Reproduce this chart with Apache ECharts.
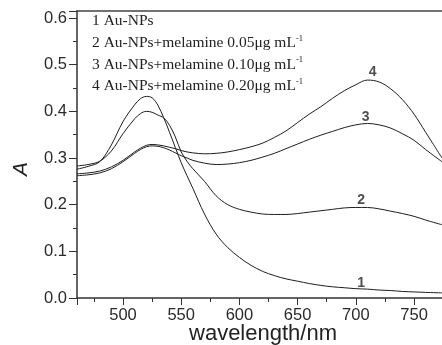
<!DOCTYPE html>
<html>
<head>
<meta charset="utf-8">
<script src="https://cdn.jsdelivr.net/npm/echarts@6/dist/echarts.min.js"></script>
<style>html,body{margin:0;padding:0;background:#fff;}#c{width:442px;height:345px;}</style>
</head>
<body>
<div id="c"></div>
<script>
// wavelength (nm)
var wavelengths = [460.5,470,480,490,500,510,515,520,525,530,535,540,545,550,555,560,570,580,590,600,610,620,630,640,650,660,670,680,690,700,710,720,730,740,750,760,774];
// 1 Au-NPs
var auNPs = [0.276,0.282,0.292,0.328,0.378,0.414,0.427,0.432,0.429,0.413,0.386,0.355,0.322,0.290,0.262,0.235,0.180,0.137,0.108,0.087,0.070,0.057,0.048,0.041,0.036,0.031,0.027,0.024,0.022,0.020,0.019,0.017,0.016,0.014,0.013,0.012,0.011];
// 2 Au-NPs + melamine 0.05
var mel005 = [0.283,0.286,0.293,0.315,0.352,0.384,0.395,0.400,0.398,0.392,0.386,0.370,0.345,0.313,0.293,0.277,0.250,0.219,0.200,0.190,0.184,0.180,0.179,0.179,0.181,0.184,0.187,0.190,0.193,0.194,0.194,0.191,0.186,0.181,0.175,0.167,0.157];
// 3 Au-NPs + melamine 0.10
var mel010 = [0.262,0.264,0.268,0.277,0.292,0.310,0.318,0.324,0.326,0.325,0.322,0.317,0.311,0.305,0.300,0.295,0.289,0.286,0.287,0.290,0.295,0.302,0.310,0.320,0.330,0.340,0.349,0.357,0.365,0.371,0.374,0.371,0.364,0.352,0.338,0.318,0.292];
// 4 Au-NPs + melamine 0.20
var mel020 = [0.266,0.268,0.272,0.281,0.295,0.313,0.321,0.327,0.329,0.328,0.326,0.323,0.320,0.316,0.313,0.311,0.309,0.310,0.313,0.318,0.324,0.332,0.344,0.358,0.376,0.394,0.410,0.428,0.444,0.457,0.467,0.463,0.448,0.425,0.394,0.355,0.300];

// curve number labels
var labelText = ['1','2','3','4'];
var labelX = [704.5,704.5,708.5,714.5];
var labelY = [0.031,0.210,0.388,0.485];

// legend lines
var legendMain = ['1 Au-NPs','2 Au-NPs+melamine 0.05\u03bcg mL','3 Au-NPs+melamine 0.10\u03bcg mL','4 Au-NPs+melamine 0.20\u03bcg mL'];
var legendSup = ['','-1','-1','-1'];

var xAxisName = 'wavelength/nm';
var yAxisName = 'A';

function pairs(ys){ return wavelengths.map(function(w,i){ return [w, ys[i]]; }); }

var lineColor = '#1e1e1e';
function lineSeries(name, ys){
  return {name:name, type:'line', data:pairs(ys), smooth:0.35, showSymbol:false, symbol:'none',
    lineStyle:{color:lineColor, width:1}, silent:true, animation:false};
}

var chart = echarts.init(document.getElementById('c'), null, {renderer:'canvas'});
var graphics = [];
legendMain.forEach(function(t,i){
  graphics.push({type:'text', left:92, top: 13 + i*21.3, silent:true,
    style:{text:'{m|'+t+'}'+(legendSup[i]?'{s|'+legendSup[i]+'}':''),
      rich:{m:{fontFamily:'Liberation Serif', fontSize:15.5, fill:'#222', lineHeight:18},
            s:{fontFamily:'Liberation Serif', fontSize:8.5, fill:'#222', verticalAlign:'top', lineHeight:18, padding:[0,0,8,0]}}}});
});
graphics.push({type:'text', x:263, y:334, silent:true,
  style:{text:xAxisName, font:'22px "Liberation Sans", Arial', fill:'#222', align:'center', verticalAlign:'middle'}});

var option = {
  animation:false,
  backgroundColor:'#fff',
  grid:{left:77, top:11, right:0, bottom:47, containLabel:false},
  xAxis:[{
    type:'value', min:460.5, max:774, position:'bottom',
    axisLine:{show:true, lineStyle:{color:'#333', width:1.5}},
    axisTick:{show:true, inside:false, length:7, lineStyle:{color:'#333', width:1}},
    minorTick:{show:true, splitNumber:2, length:4, lineStyle:{color:'#333', width:1}},
    splitLine:{show:false},
    axisLabel:{show:true, margin:9, fontSize:16.5, fontFamily:'Liberation Sans', color:'#2a2a2a', showMinLabel:false, showMaxLabel:false}
  },{
    type:'value', min:460.5, max:774, position:'top',
    axisLine:{show:true, onZero:false, lineStyle:{color:'#444', width:1.5}},
    axisTick:{show:false}, axisLabel:{show:false}, splitLine:{show:false}
  }],
  yAxis:{
    type:'value', min:0, max:0.615,
    name:yAxisName, nameLocation:'middle', nameRotate:90, nameGap:45,
    nameTextStyle:{fontFamily:'Liberation Sans', fontStyle:'italic', fontSize:21, color:'#222', padding:[0,29,0,0]},
    axisLine:{show:true, lineStyle:{color:'#333', width:1.5}},
    axisTick:{show:true, inside:false, length:8, lineStyle:{color:'#333', width:1}},
    minorTick:{show:true, splitNumber:2, length:4, lineStyle:{color:'#333', width:1}},
    splitLine:{show:false},
    axisLabel:{show:true, margin:10, fontSize:16.5, fontFamily:'Liberation Sans', color:'#2a2a2a', showMaxLabel:false,
      formatter:function(v){ return v.toFixed(1); }}
  },
  series:[
    lineSeries('1', auNPs),
    lineSeries('2', mel005),
    lineSeries('3', mel010),
    lineSeries('4', mel020),
    {type:'scatter', symbolSize:0, silent:true,
      data:labelText.map(function(t,i){ return {name:t, value:[labelX[i], labelY[i]]}; }),
      label:{show:true, position:'inside', formatter:function(p){return p.name;}, fontFamily:'Liberation Sans', fontWeight:'bold', fontSize:14, color:'#222'}}
  ],
  graphic:graphics
};
chart.setOption(option);
</script>
</body>
</html>
